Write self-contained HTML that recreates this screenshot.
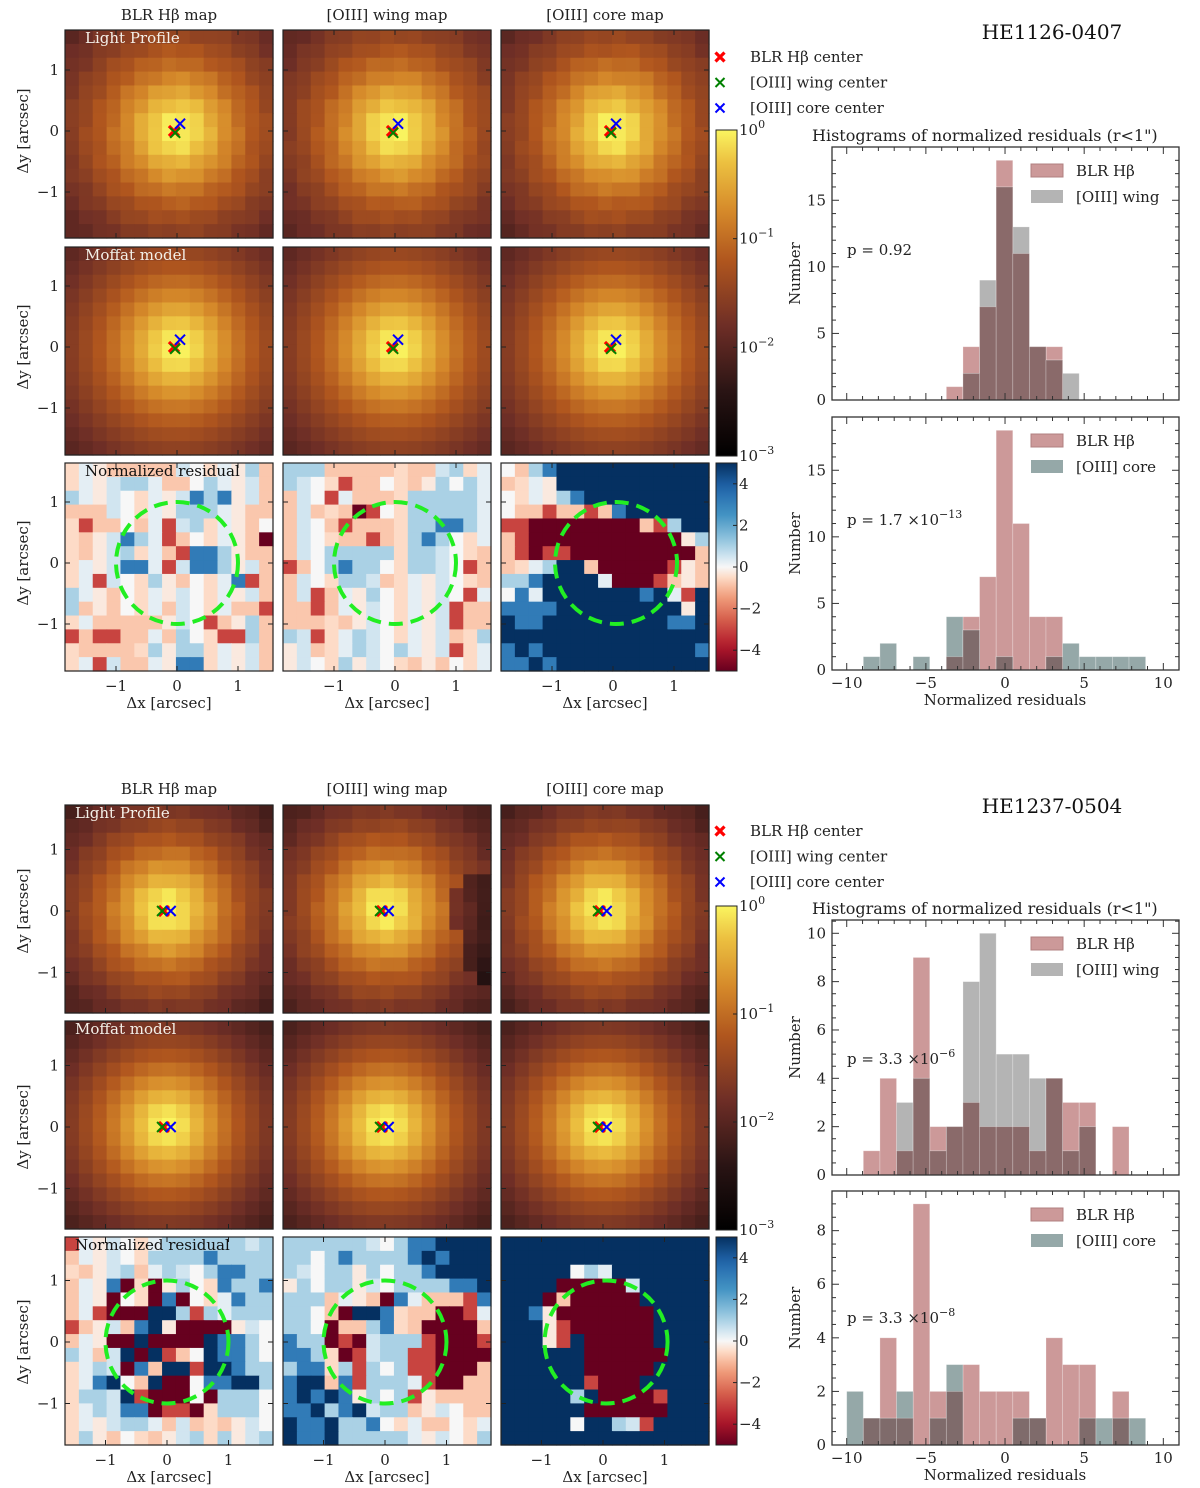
<!DOCTYPE html>
<html><head><meta charset="utf-8"><style>
html,body{margin:0;padding:0;background:#fff;}
svg{display:block;font-family:"DejaVu Serif","Liberation Serif",serif;}
</style></head><body>
<svg id="fig" width="1200" height="1488" viewBox="0 0 1200 1488" xmlns="http://www.w3.org/2000/svg"></svg>
<script>
// ===== Histogram data (bin edges start -10, width 1.049, 18 bins) =====
const binStart = -10, binWidth = 1.049;
const h1Blr  = [0,0,0,0,0,0,1,4,7,18,11,4,4,0,0,0,0,0];
const h1Wing = [0,0,0,0,0,0,0,2,9,16,13,4,3,2,0,0,0,0];
const h2Blr  = [0,0,0,0,0,0,1,4,7,18,11,4,4,0,0,0,0,0];
const h2Core = [0,1,2,0,1,0,4,3,0,1,0,0,1,2,1,1,1,1];
const h3Blr  = [0,1,4,1,9,2,2,3,2,2,2,1,4,3,3,0,2,0];
const h3Wing = [0,0,0,3,4,1,2,8,10,5,5,4,4,1,2,0,0,0];
const h4Blr  = [0,1,4,1,9,2,2,3,2,2,2,1,4,3,3,0,2,0];
const h4Core = [2,1,1,2,0,1,3,0,0,0,1,1,0,0,1,1,1,1];
const xTicks = [-10,-5,0,5,10];
const resTicks = [4,2,0,-2,-4];
// ===== Residual maps (15x15, chars: D=-5 r=-3 o=-0.8 w=0 b=1 B=3.2 N=5) =====
const r1Blr = ["wwwooooowwwwwbo","wwwwbbwoowbwwwo","bwwwwwwwwBbBwwo","ooowwwwwbbbwwoo","wroowowrwbwwwow","wowwBbwrowwwwoD","wowwbwworBBbwoo","wwwwBBwrwBBbwwo","wwrwwwbwowwwBro","bwwowwwwwwwwwwo","bowowwwowwwwoor","wwooooowwwrowbo","rorroowobwwrrbo","woooowbwbbwwwwo","wwrwoowwBBwwwwo"];
const r1Wing = ["bbbooooowoowbww","bwwwroowwowbwbw","owwrwooowbbbbbw","owowoDrwwbbbbbw","owworooowbbBBbw","owwwoorowbBbwww","owwbbbbbwbbwwwo","rowbBbbwwbbwwro","owwwbbwowwwwwwo","owrowwbwwwwwwrw","oorowwwwwwwwroo","ooowowwwwwwwroo","bwrwwbwwwwwwowb","wwowwbwwbwwwrww","wwwwbwwwwowowww"];
const r1Core = ["wobBNNNNNNNNNNN","owwwNNNNNNNNNNN","wwwwbBNNNNNNNNN","woorooroBNNNNNN","rrDDDDDDDDorbNN","orDDDDDDDDDDDwb","orDrrDDDDDDDDDo","owwbNNoDDDDDrwo","bbBNNNNwDDDrowo","wBwNNNNNNNBNwrN","BBBBNNNNNNNNNwN","NBBNNNNNNNNNBBN","NNNNNNNNNNNNNNN","BNBNNNNNNNNNNNB","BBNBNNNNNNNNNNN"];
const r2Blr = ["rwwwwwwbbbbbbwb","owwwwwbbbbBbbbb","wowwbowbwwbBBbb","owwBDwDwbwwBbbB","owwDwwDBDwwwBbb","owrDDDNNbrbwbbb","rowwoBNwDDDDwww","owwDDNDDDDNBBbw","bwowNDNrowNBBbw","wwbwDBoNNrNNBbb","wwBNwoNDDwBBNNb","wbbwNrDDDwDbbbw","wwbwBBDrrDwbbbw","wwwwbbwowowowww","wbwowwowwbwbwwb"];
const r2Wing = ["bbbbbbwwbBBNNNN","bbwbBbbbbBNBNNN","bwwbbwbwbbBNNNN","wbwbbwwwbbbbBBN","bbbowwoDBwooorB","bbwoDNNBwooDDrw","bbwDoobBwoDDDDo","BbbDrDwbbbrDDDr","BBbwDrwbbrrDDDD","bBBwbrbwbrrDDDo","BNNoBrbbbwrDDoo","BNBNBwbwbrwoooo","BBNbBNwbbowwwoo","NBBNbbBwwwoowww","NBBNbbbbbwwwwwb"];
const r2Core = ["NNNNNNNNNNNNNNN","NNNNNNNNNNNNNNN","NNNNNwbwNNNNNNN","NNNNDDDDDwNNNNN","NNNDoDDDDDNNNNN","NNBwDDDDDDDNNNN","NNNwrDDDDDDNNNN","NNNwrNDDDDDNNNN","NNNNNNDDDDDDNNN","NNNNNNDDDDDNNNN","NNNNNNrDDDNNNNN","NNNNNbNDDDDrNNN","NNNNNNDDDDDDNNN","NNNNNwNNbwrNNNN","NNNNNNNNNNNNNNN"];
const betaB1 = 1.6, betaB2 = 1.8;

const NS="http://www.w3.org/2000/svg";
const svg=document.getElementById('fig');
function el(tag,attrs,parent){const e=document.createElementNS(NS,tag);for(const k in attrs)e.setAttribute(k,attrs[k]);(parent||svg).appendChild(e);return e;}
function txt(x,y,s,size,anchor,parent,fill){const t=el('text',{x:x,y:y,'font-size':size||15,'text-anchor':anchor||'start',fill:fill||'#222'},parent);t.textContent=s;return t;}
function lerpC(stops,t){t=Math.max(0,Math.min(1,t));for(let i=1;i<stops.length;i++){if(t<=stops[i][0]){const a=stops[i-1],b=stops[i];const f=(t-a[0])/(b[0]-a[0]);const ca=hex(a[1]),cb=hex(b[1]);return 'rgb('+ca.map((v,j)=>Math.round(v+(cb[j]-v)*f)).join(',')+')';}}return stops[stops.length-1][1];}
function hex(h){return [1,3,5].map(i=>parseInt(h.substr(i,2),16));}
const hotStops=[[0,'#000000'],[0.2,'#2a1414'],[0.4,'#6e2e26'],[0.6,'#b0561e'],[0.75,'#d5892a'],[0.9,'#ecc040'],[1,'#faf560']];
const rdbu=[[0,'#67001f'],[0.12,'#b2182b'],[0.25,'#d6604d'],[0.37,'#f4a582'],[0.45,'#fddbc7'],[0.5,'#f7f7f7'],[0.55,'#d1e5f0'],[0.63,'#92c5de'],[0.75,'#4393c3'],[0.88,'#2166ac'],[1,'#053061']];
const charVal={D:-5,r:-3,o:-0.8,w:0,b:1.0,B:3.2,N:5};

const defs=el('defs',{});
const g1=el('linearGradient',{id:'hotg',x1:0,y1:1,x2:0,y2:0},defs);
for(let i=0;i<=20;i++)el('stop',{offset:i/20,'stop-color':lerpC(hotStops,i/20)},g1);
const g2=el('linearGradient',{id:'rdbug',x1:0,y1:1,x2:0,y2:0},defs);
for(let i=0;i<=20;i++)el('stop',{offset:i/20,'stop-color':lerpC(rdbu,i/20)},g2);

const colX=[65,283,501], W=208;
function block(cfg){
  const {rowsY,x0,x1,y0,y1,xc,yc,ppu,beta,centers,resid,title,titleY,legY,histY,hists,cbY}=cfg;
  const H=208;
  ['BLR Hβ map','[OIII] wing map','[OIII] core map'].forEach((s,i)=>{
    const t=txt(colX[i]+W/2,titleY,s,15,'middle');
    
  });
  for(let r=0;r<3;r++){
    for(let c=0;c<3;c++){
      const g=el('g',{});
      
      
      const px=colX[c],py=rowsY[r];
      const n=15,cw=W/n,ch=H/n;
      for(let i=0;i<n;i++)for(let j=0;j<n;j++){
        let col;
        if(r<2){
          const dx=(x0+(j+0.5)*(x1-x0)/n), dy=(y1-(i+0.5)*(y1-y0)/n);
          const rr=dx*dx+dy*dy; let v=Math.pow(1+rr/0.36,-beta);
          if(r==0){const k=((i*7+j*13+c*5)%9-4)*0.012; v*=Math.pow(10,k);}
          if(r==0&&c==1&&cfg.wingDark&&((j==13&&i>=5&&i<=11)||(j==14&&i>=5&&i<=12)||(j==12&&i>=6&&i<=8))) v*=0.3;
          col=lerpC(hotStops,(Math.log10(v)+3)/3);
        } else {
          const ch2=resid[c][i][j]; let v=charVal[ch2];
          if(ch2=='w') v=((i*5+j*3+c)%5-2)*0.25;
          col=lerpC(rdbu,(v+5)/10);
        }
        el('rect',{x:(px+j*cw).toFixed(2),y:(py+i*ch).toFixed(2),width:(cw+0.6).toFixed(2),height:(ch+0.6).toFixed(2),fill:col},g);
      }
      el('rect',{x:px,y:py,width:W,height:H,fill:'none',stroke:'#222','stroke-width':1.2},g);
      const tk=[-1,0,1];
      tk.forEach(v=>{const X=xc[c]+v*ppu;el('line',{x1:X,y1:py+H,x2:X,y2:py+H-5,stroke:'#222'},g);el('line',{x1:X,y1:py,x2:X,y2:py+5,stroke:'#222'},g);
        const Y=yc[r]-v*ppu;el('line',{x1:px,y1:Y,x2:px+5,y2:Y,stroke:'#222'},g);el('line',{x1:px+W,y1:Y,x2:px+W-5,y2:Y,stroke:'#222'},g);});
      if(c==0){tk.forEach(v=>{txt(px-6,yc[r]-v*ppu+5,v<0?'−1':String(v),15,'end');});
        const yl=txt(0,0,'Δy [arcsec]',15,'middle');yl.setAttribute('transform','translate(28,'+yc[r]+') rotate(-90)');
        }
      if(r==2){tk.forEach(v=>txt(xc[c]+v*ppu,py+H+20,v<0?'−1':String(v),15,'middle'));
        const xl=txt(px+W/2,py+H+37,'Δx [arcsec]',15,'middle');}
      if(r<2){
        [['red',centers[0],3.2],['green',centers[1],2],['blue',centers[2],2]].forEach(([clr,p,sw])=>{
          const X=xc[c]+p[0]*ppu,Y=yc[r]-p[1]*ppu,s=5;
          const m=el('path',{d:`M${X-s},${Y-s}L${X+s},${Y+s}M${X-s},${Y+s}L${X+s},${Y-s}`,stroke:clr,'stroke-width':sw},g);
          
        });
      } else {
        const e=el('circle',{cx:xc[c]+(c==2?0.05:0)*ppu,cy:yc[2],r:ppu,fill:'none',stroke:'#22ee22','stroke-width':4,'stroke-dasharray':'14 8'},g);
        
      }
    }
  }
  const lab=[['Light Profile','#f4f0e8'],['Moffat model','#f4f0e8'],['Normalized residual','#111']];
  lab.forEach((l,i)=>{const t=txt(cfg.labX,rowsY[i]+13,l[0],15,'start',null,l[1]);});
  const cb1=el('rect',{x:716,y:cbY[0],width:21,height:cbY[1]-cbY[0],fill:'url(#hotg)',stroke:'#222','stroke-width':1});
  
  for(let k=0;k<=3;k++){const Y=cbY[0]+k*(cbY[1]-cbY[0])/3;el('line',{x1:737,y1:Y,x2:733,y2:Y,stroke:'#222'});
    const t=txt(739,Y+5,'10',15);const s=el('tspan',{dy:-7,'font-size':11},t);s.textContent=k==0?'0':'−'+k;}
  const ry=rowsY[2];
  const cb2=el('rect',{x:716,y:ry,width:21,height:H,fill:'url(#rdbug)',stroke:'#222','stroke-width':1});
  
  resTicks.forEach(v=>{const Y=ry+H/2-v*H/10;el('line',{x1:737,y1:Y,x2:733,y2:Y,stroke:'#222'});txt(739,Y+5,v<0?'−'+(-v):String(v),15);});
  const legs=[['red','BLR Hβ center',3.2],['green','[OIII] wing center',2],['blue','[OIII] core center',2]];
  legs.forEach((l,i)=>{const Y=legY+i*25.5,X=720,s=4.5;
    const gg=el('g',{});
    el('path',{d:`M${X-s},${Y-s}L${X+s},${Y+s}M${X-s},${Y+s}L${X+s},${Y-s}`,stroke:l[0],'stroke-width':l[2]},gg);
    txt(750,Y+5,l[1],15,'start',gg);});
  const tt=txt(1052,titleY+19,title,20,'middle',null,'#111');
  const ht=txt(812,histY[0][0]-6,'Histograms of normalized residuals (r<1")',16,'start');
  hists.forEach((h,k)=>drawHist(histY[k],h,k==1));
}
function drawHist(yr,h,showX){
  const X0=832,X1=1179,Y0=yr[0],Y1=yr[1],xmin=-10.93,xmax=10.99,ymax=h.ymax;
  const g=el('g',{});
  const xs=v=>X0+(v-xmin)/(xmax-xmin)*(X1-X0), ys=v=>Y1-v/ymax*(Y1-Y0);
  const ov=h.a.map((v,i)=>Math.min(v,h.b[i]));
  const series=[[h.a,'#cc9999','bar-blr'],[h.b,h.col,'bar-oiii'],[ov,h.ovc,'bar-overlap']];
  series.forEach(([arr,fill,name])=>{
    arr.forEach((v,i)=>{if(!v)return;const x=xs(binStart+i*binWidth),w=xs(binStart+(i+1)*binWidth)-x;
      const b=el('rect',{x:x,y:ys(v),width:w,height:ys(0)-ys(v),fill:fill,stroke:'rgba(255,255,255,0.3)','stroke-width':0.8},g);
      });
  });
  el('rect',{x:X0,y:Y0,width:X1-X0,height:Y1-Y0,fill:'none',stroke:'#333','stroke-width':1.3},g);
  for(let v=-10;v<=10;v+=1){const X=xs(v),L=v%5==0?7:4;el('line',{x1:X,y1:Y1,x2:X,y2:Y1-L,stroke:'#333'},g);el('line',{x1:X,y1:Y0,x2:X,y2:Y0+L,stroke:'#333'},g);}
  for(let v=0;v<=ymax;v+=h.minor){const Y=ys(v),maj=Math.abs(v/h.major-Math.round(v/h.major))<1e-6,L=maj?7:4;
    el('line',{x1:X0,y1:Y,x2:X0+L,y2:Y,stroke:'#333'},g);el('line',{x1:X1,y1:Y,x2:X1-L,y2:Y,stroke:'#333'},g);
    if(maj)txt(X0-6,Y+5,String(Math.round(v)),15,'end',g);}
  if(showX){xTicks.forEach(v=>txt(xs(v),Y1+18,v<0?'−'+(-v):String(v),15,'middle',g));
    txt(1005,Y1+35,'Normalized residuals',15,'middle',g);}
  const yl=txt(0,0,'Number',15,'middle',g);yl.setAttribute('transform','translate(800,'+((Y0+Y1)/2)+') rotate(-90)');
  el('rect',{x:1031,y:Y0+17,width:32,height:13,fill:'#cc9999',stroke:'#b08080'},g);
  txt(1076,Y0+29,'BLR Hβ',15,'start',g);
  el('rect',{x:1031,y:Y0+43,width:32,height:13,fill:h.col},g);
  txt(1076,Y0+55,h.bname,15,'start',g);
  const pt=txt(847,Y0+h.py,h.p,15,'start',g);
  if(h.exp){const s=el('tspan',{dy:-7,'font-size':11},pt);s.textContent=h.exp;}
}
const gray='#b4b4b4', teal='#95a8a8';
block({rowsY:[30,247,463],x0:-1.87,x1:1.6,y0:-1.77,y1:1.65,xc:[177,395,613],yc:[131,347,563],ppu:61,beta:betaB1,
  centers:[[-0.05,0],[-0.03,-0.03],[0.05,0.12]],resid:[r1Blr,r1Wing,r1Core],title:'HE1126-0407',titleY:20,legY:57,labX:85,
  cbY:[130,456],histY:[[147,400],[417,670]],
  hists:[{a:h1Blr,b:h1Wing,col:gray,ovc:'#8a6a6a',bname:'[OIII] wing',ymax:19,major:5,minor:1,p:'p = 0.92',py:108},
         {a:h2Blr,b:h2Core,col:teal,ovc:'#7f6b6b',bname:'[OIII] core',ymax:19,major:5,minor:1,p:'p = 1.7 ×10',exp:'−13',py:108}]});
block({rowsY:[805,1021,1237],x0:-1.66,x1:1.72,y0:-1.7,y1:1.72,xc:[167,385,603],yc:[911,1127,1342],ppu:61.5,beta:betaB2,
  centers:[[-0.05,0],[-0.08,0],[0.06,0]],resid:[r2Blr,r2Wing,r2Core],title:'HE1237-0504',titleY:794,legY:831,labX:75,wingDark:true,
  cbY:[906,1230],histY:[[920,1175],[1191,1445]],
  hists:[{a:h3Blr,b:h3Wing,col:gray,ovc:'#8a6a6a',bname:'[OIII] wing',ymax:10.55,major:2,minor:0.5,p:'p = 3.3 ×10',exp:'−6',py:144},
         {a:h4Blr,b:h4Core,col:teal,ovc:'#7f6b6b',bname:'[OIII] core',ymax:9.48,major:2,minor:0.5,p:'p = 3.3 ×10',exp:'−8',py:132}]});
</script>
</body></html>
